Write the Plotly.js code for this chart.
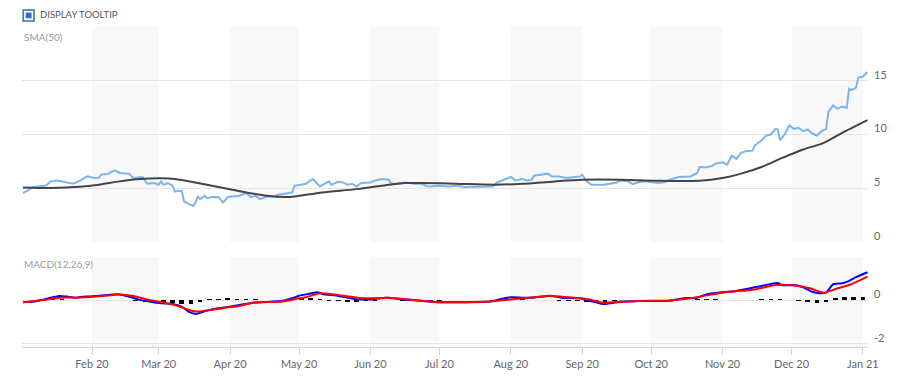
<!DOCTYPE html>
<html>
<head>
<meta charset="utf-8">
<script src="https://cdn.plot.ly/plotly-3.0.1.min.js"></script>
<style>
  html, body { margin: 0; padding: 0; background: #fff; }
  #chart { width: 900px; height: 386px; }
</style>
</head>
<body>
<div id="chart"></div>
<script>
// ---- Price series ----
const priceDates = [
  '2020-01-02','2020-01-04','2020-01-06','2020-01-09','2020-01-12','2020-01-14','2020-01-17','2020-01-20','2020-01-24','2020-01-27','2020-01-30',
  '2020-02-02','2020-02-04','2020-02-05','2020-02-08','2020-02-09','2020-02-11','2020-02-13','2020-02-16','2020-02-17','2020-02-19','2020-02-23','2020-02-25','2020-02-28',
  '2020-03-01','2020-03-02','2020-03-03','2020-03-05','2020-03-07','2020-03-08','2020-03-11','2020-03-12','2020-03-14','2020-03-16','2020-03-17','2020-03-18','2020-03-19','2020-03-21','2020-03-22','2020-03-24','2020-03-27','2020-03-29','2020-03-31',
  '2020-04-02','2020-04-05','2020-04-08','2020-04-10','2020-04-12','2020-04-14','2020-04-17','2020-04-20','2020-04-22','2020-04-25','2020-04-28','2020-04-29',
  '2020-05-01','2020-05-04','2020-05-06','2020-05-07','2020-05-10','2020-05-12','2020-05-14','2020-05-15','2020-05-18','2020-05-20','2020-05-22','2020-05-24','2020-05-26','2020-05-28',
  '2020-06-01','2020-06-03','2020-06-06','2020-06-09','2020-06-10','2020-06-13','2020-06-16','2020-06-20','2020-06-23','2020-06-26',
  '2020-07-01','2020-07-05','2020-07-08','2020-07-12','2020-07-17','2020-07-21','2020-07-24','2020-07-26','2020-07-28','2020-07-30',
  '2020-08-01','2020-08-03','2020-08-06','2020-08-08','2020-08-10','2020-08-11','2020-08-14','2020-08-17','2020-08-19','2020-08-22','2020-08-25','2020-08-28','2020-08-31',
  '2020-09-01','2020-09-03','2020-09-05','2020-09-07','2020-09-10','2020-09-13','2020-09-16','2020-09-18','2020-09-21','2020-09-23','2020-09-25','2020-09-28',
  '2020-10-01','2020-10-04','2020-10-07','2020-10-10','2020-10-13','2020-10-16','2020-10-18','2020-10-21','2020-10-22','2020-10-25','2020-10-27','2020-10-29',
  '2020-11-01','2020-11-03','2020-11-05','2020-11-07','2020-11-09','2020-11-11','2020-11-14','2020-11-15','2020-11-18','2020-11-20','2020-11-22','2020-11-24','2020-11-25','2020-11-26','2020-11-28','2020-11-30',
  '2020-12-02','2020-12-04','2020-12-06','2020-12-08','2020-12-10','2020-12-12','2020-12-14','2020-12-16','2020-12-17','2020-12-19','2020-12-21','2020-12-23','2020-12-25','2020-12-26','2020-12-27','2020-12-29','2020-12-30',
  '2021-01-01','2021-01-03'
];
const priceVals = [
  4.55,4.77,5.10,5.17,5.26,5.64,5.73,5.58,5.42,5.73,6.10,
  5.95,5.98,6.29,6.33,6.48,6.66,6.42,6.36,6.36,5.95,6.05,5.42,5.49,
  5.33,5.64,5.33,5.49,5.23,4.70,4.77,3.77,3.55,3.36,3.67,4.23,3.99,4.30,4.08,4.18,4.18,3.67,4.18,
  4.23,4.30,4.55,4.18,4.30,3.99,4.23,4.23,4.39,4.49,4.61,5.23,
  5.28,5.42,5.73,5.86,5.17,5.42,5.64,5.33,5.60,5.54,5.33,5.42,5.17,5.49,
  5.54,5.73,5.86,5.79,5.42,5.42,5.54,5.42,5.42,5.17,
  5.23,5.17,5.23,5.11,5.11,5.11,5.17,5.54,5.73,5.86,
  6.05,5.73,5.86,5.73,5.79,6.17,6.23,6.36,6.10,6.10,5.95,6.05,6.10,
  6.26,5.64,5.33,5.33,5.33,5.42,5.54,5.73,5.64,5.39,5.54,5.64,
  5.54,5.49,5.58,5.86,6.05,6.05,6.10,6.42,6.98,6.95,7.04,7.29,
  7.41,7.20,8.04,7.73,8.29,8.44,8.50,8.97,9.47,9.91,10.00,10.53,10.47,9.47,10.00,10.84,
  10.53,10.63,10.31,10.47,10.09,9.91,10.31,10.53,12.08,12.71,12.40,12.59,12.49,14.27,14.14,14.36,15.30,
  15.39,15.82
];

// ---- SMA(50) ----
const smaDates = ['2020-01-02','2020-01-14','2020-01-28','2020-02-04','2020-02-13','2020-02-22','2020-03-02','2020-03-08','2020-03-18','2020-04-02','2020-04-17','2020-04-25','2020-04-29','2020-05-11','2020-05-26','2020-06-09','2020-06-16','2020-06-23','2020-07-08','2020-07-25','2020-08-06','2020-08-20','2020-09-01','2020-09-18','2020-10-03','2020-10-22','2020-11-01','2020-11-09','2020-11-18','2020-11-27','2020-12-06','2020-12-15','2020-12-23','2021-01-03'];
const smaVals  = [5.07,5.02,5.17,5.33,5.64,5.86,5.92,5.86,5.49,4.86,4.30,4.18,4.23,4.61,4.92,5.33,5.49,5.49,5.42,5.33,5.42,5.64,5.79,5.79,5.70,5.70,5.95,6.36,6.98,7.82,8.60,9.22,10.16,11.34];

// ---- MACD(12,26,9) line ----
const macdDates = ['2020-01-02','2020-01-07','2020-01-11','2020-01-15','2020-01-18','2020-01-21','2020-01-25','2020-01-29','2020-02-03','2020-02-08','2020-02-13','2020-02-17','2020-02-21','2020-02-26','2020-03-02','2020-03-07','2020-03-11','2020-03-14','2020-03-17','2020-03-20','2020-03-24','2020-03-30','2020-04-05','2020-04-11','2020-04-17','2020-04-24','2020-04-28','2020-05-01','2020-05-05','2020-05-09','2020-05-11','2020-05-18','2020-05-26','2020-06-01','2020-06-08','2020-06-15','2020-06-23','2020-07-01','2020-07-11','2020-07-23','2020-07-27','2020-08-01','2020-08-06','2020-08-11','2020-08-18','2020-08-23','2020-08-31','2020-09-04','2020-09-07','2020-09-10','2020-09-13','2020-09-18','2020-09-26','2020-10-03','2020-10-09','2020-10-15','2020-10-21','2020-10-25','2020-11-01','2020-11-07','2020-11-12','2020-11-18','2020-11-22','2020-11-25','2020-11-27','2020-12-02','2020-12-06','2020-12-10','2020-12-13','2020-12-16','2020-12-19','2020-12-23','2020-12-26','2020-12-29','2021-01-03'];
const macdVals  = [-0.08,-0.05,0.05,0.15,0.21,0.18,0.13,0.18,0.21,0.25,0.28,0.18,0.05,-0.05,-0.13,-0.16,-0.28,-0.51,-0.62,-0.53,-0.41,-0.31,-0.21,-0.10,-0.07,-0.01,0.10,0.22,0.30,0.38,0.30,0.21,0.05,0.05,0.13,0.05,-0.01,-0.08,-0.08,-0.05,0.05,0.15,0.13,0.13,0.22,0.13,0.10,-0.01,-0.08,-0.16,-0.13,-0.05,-0.02,-0.02,-0.01,0.10,0.13,0.28,0.38,0.44,0.54,0.67,0.76,0.80,0.70,0.71,0.61,0.40,0.33,0.36,0.74,0.79,0.90,1.07,1.30];

// ---- Signal line ----
const signalDates = ['2020-01-02','2020-01-11','2020-01-18','2020-01-25','2020-02-03','2020-02-13','2020-02-19','2020-02-26','2020-03-02','2020-03-08','2020-03-12','2020-03-17','2020-03-23','2020-03-30','2020-04-05','2020-04-11','2020-04-24','2020-05-01','2020-05-04','2020-05-10','2020-05-18','2020-05-29','2020-06-09','2020-06-20','2020-07-01','2020-07-23','2020-08-01','2020-08-09','2020-08-18','2020-08-31','2020-09-04','2020-09-10','2020-09-16','2020-09-26','2020-10-08','2020-10-18','2020-11-01','2020-11-15','2020-11-24','2020-12-03','2020-12-09','2020-12-15','2020-12-21','2020-12-26','2021-01-03'];
const signalVals  = [-0.08,0.02,0.13,0.13,0.18,0.28,0.21,0.02,-0.07,-0.21,-0.36,-0.51,-0.44,-0.33,-0.25,-0.10,-0.05,0.10,0.15,0.33,0.25,0.10,0.13,0.02,-0.08,-0.05,0.05,0.13,0.21,0.10,0.05,-0.10,-0.08,-0.02,-0.01,0.10,0.36,0.51,0.71,0.68,0.56,0.36,0.56,0.71,1.10];

// ---- Histogram ----
const histDates = ['2020-01-03','2020-01-07','2020-01-11','2020-01-15','2020-01-19','2020-01-23','2020-01-27','2020-01-31',
  '2020-02-04','2020-02-08','2020-02-12','2020-02-16','2020-02-20','2020-02-24','2020-02-28',
  '2020-03-03','2020-03-07','2020-03-11','2020-03-15','2020-03-19','2020-03-23','2020-03-27','2020-03-31',
  '2020-04-04','2020-04-08','2020-04-12','2020-04-16','2020-04-20','2020-04-24','2020-04-28',
  '2020-05-02','2020-05-06','2020-05-10','2020-05-14','2020-05-18','2020-05-22','2020-05-26','2020-05-30',
  '2020-06-03','2020-06-07','2020-06-11','2020-06-15','2020-06-19','2020-06-23','2020-06-27',
  '2020-07-01','2020-07-05','2020-07-09','2020-07-13','2020-07-17','2020-07-21','2020-07-25','2020-07-29',
  '2020-08-02','2020-08-06','2020-08-10','2020-08-14','2020-08-18','2020-08-22','2020-08-26','2020-08-30',
  '2020-09-03','2020-09-07','2020-09-11','2020-09-15','2020-09-19','2020-09-23','2020-09-27',
  '2020-10-01','2020-10-05','2020-10-09','2020-10-13','2020-10-17','2020-10-21','2020-10-25','2020-10-29',
  '2020-11-02','2020-11-06','2020-11-10','2020-11-14','2020-11-18','2020-11-22','2020-11-26','2020-11-30',
  '2020-12-04','2020-12-08','2020-12-12','2020-12-16','2020-12-20','2020-12-24','2020-12-28','2021-01-01'];
const histVals = [0.00,0.03,0.06,0.08,0.06,0.03,0.02,0.03,
  0.03,0.03,0.02,0.01,-0.03,-0.06,-0.08,
  -0.10,-0.12,-0.15,-0.18,-0.05,0.06,0.08,0.10,
  0.08,0.07,0.06,0.04,0.02,0.03,0.08,
  0.12,0.12,0.06,-0.02,-0.04,-0.05,-0.06,-0.04,
  -0.02,0.02,0.02,-0.02,-0.03,-0.03,-0.02,
  -0.01,0.00,0.00,0.00,0.00,0.00,0.02,0.06,
  0.08,0.05,0.02,0.03,0.02,-0.02,-0.03,-0.03,
  -0.06,-0.08,-0.07,-0.04,0.02,0.02,0.01,
  0.00,0.00,0.01,0.03,0.04,0.05,0.06,0.05,
  0.04,0.04,0.03,0.04,0.05,0.06,0.05,0.02,
  -0.02,-0.06,-0.10,-0.08,0.10,0.15,0.15,0.17];

// ---- Axis ticks / bands ----
const priceTicks = [0, 5, 10, 15, 20];
const priceTickText = ['0', '5', '10', '15', ''];
const macdTicks = [-2, 0, 2];
const macdTickText = ['-2', '0', ''];
const bandStarts = ['2020-02-01','2020-04-01','2020-06-01','2020-08-01','2020-10-01','2020-12-01'];
const bandEnds   = ['2020-03-01','2020-05-01','2020-07-01','2020-09-01','2020-11-01','2021-01-01'];

const FONT = 'Lato, "Open Sans", Arial, sans-serif';

const traces = [
  { type: 'scatter', mode: 'lines', x: priceDates, y: priceVals, xaxis: 'x', yaxis: 'y',
    line: { color: '#7cb5ec', width: 2 } },
  { type: 'scatter', mode: 'lines', x: smaDates, y: smaVals, xaxis: 'x', yaxis: 'y',
    line: { color: '#434348', width: 2, shape: 'spline', smoothing: 0.8 } },
  { type: 'bar', x: histDates, y: histVals, xaxis: 'x', yaxis: 'y2',
    marker: { color: '#000000', line: { width: 0 } }, width: 2 * 86400000 },
  { type: 'scatter', mode: 'lines', x: macdDates, y: macdVals, xaxis: 'x', yaxis: 'y2',
    line: { color: '#0000ff', width: 2, shape: 'spline', smoothing: 0.6 } },
  { type: 'scatter', mode: 'lines', x: signalDates, y: signalVals, xaxis: 'x', yaxis: 'y2',
    line: { color: '#ff0000', width: 2, shape: 'spline', smoothing: 0.6 } }
];

const shapes = [];
for (let i = 0; i < bandStarts.length; i++) {
  ['y domain', 'y2 domain'].forEach(function (yr) {
    shapes.push({ type: 'rect', xref: 'x', yref: yr, x0: bandStarts[i], x1: bandEnds[i], y0: 0, y1: 1,
      fillcolor: '#f8f8f8', line: { width: 0 }, layer: 'below' });
  });
}
// checkbox icon
shapes.push({ type: 'rect', xref: 'paper', yref: 'paper', x0: 0.0014, x1: 0.0142, y0: 1.019, y1: 1.053,
  line: { color: '#3470aa', width: 1.5 }, fillcolor: '#ffffff' });
shapes.push({ type: 'rect', xref: 'paper', yref: 'paper', x0: 0.0043, x1: 0.0113, y0: 1.027, y1: 1.045,
  line: { width: 0 }, fillcolor: '#3470aa' });

const layout = {
  width: 900, height: 386,
  margin: { l: 22, r: 32, t: 27, b: 39, pad: 0 },
  paper_bgcolor: '#ffffff', plot_bgcolor: '#ffffff',
  showlegend: false, hovermode: false, bargap: 0,
  font: { family: FONT, color: '#666666', size: 11 },
  xaxis: {
    type: 'date', anchor: 'y2', domain: [0, 1],
    range: ['2020-01-01 14:00', '2021-01-03 05:00'],
    showgrid: false, zeroline: false,
    showline: true, linecolor: '#ccd6eb', linewidth: 1,
    ticks: 'outside', ticklen: 7, tickcolor: '#ccd6eb', tickwidth: 1,
    dtick: 'M1', tick0: '2020-01-01', tickformat: '%b %y',
    tickfont: { family: FONT, size: 11, color: '#666666' }
  },
  yaxis: {
    domain: [0.3281, 1], range: [0, 20], side: 'right', anchor: 'x',
    tickmode: 'array', tickvals: priceTicks, ticktext: priceTickText,
    showgrid: true, gridcolor: '#e6e6e6', gridwidth: 1, zeroline: false, showline: false,
    ticks: '', ticklabelshift: -6, ticklabelstandoff: 5,
    tickfont: { family: FONT, size: 11, color: '#666666' }
  },
  yaxis2: {
    domain: [0, 0.28125], range: [-2.14, 2], side: 'right', anchor: 'x',
    tickmode: 'array', tickvals: macdTicks, ticktext: macdTickText,
    showgrid: true, gridcolor: '#e6e6e6', gridwidth: 1, zeroline: false, showline: false,
    ticks: '', ticklabelshift: -6, ticklabelstandoff: 5,
    tickfont: { family: FONT, size: 11, color: '#666666' }
  },
  shapes: shapes,
  annotations: [
    { xref: 'paper', yref: 'paper', x: 0.0189, y: 1.0375, xanchor: 'left', yanchor: 'middle',
      text: 'DISPLAY TOOLTIP', showarrow: false, font: { family: FONT, size: 9.5, color: '#555555' } },
    { xref: 'paper', yref: 'paper', x: 0, y: 0.969, xanchor: 'left', yanchor: 'middle',
      text: 'SMA(50)', showarrow: false, font: { family: FONT, size: 10, color: '#999999' } },
    { xref: 'paper', yref: 'paper', x: 0, y: 0.259, xanchor: 'left', yanchor: 'middle',
      text: 'MACD(12,26,9)', showarrow: false, font: { family: FONT, size: 10, color: '#999999' } }
  ]
};

Plotly.newPlot('chart', traces, layout, { staticPlot: true, displayModeBar: false });
</script>
</body>
</html>
